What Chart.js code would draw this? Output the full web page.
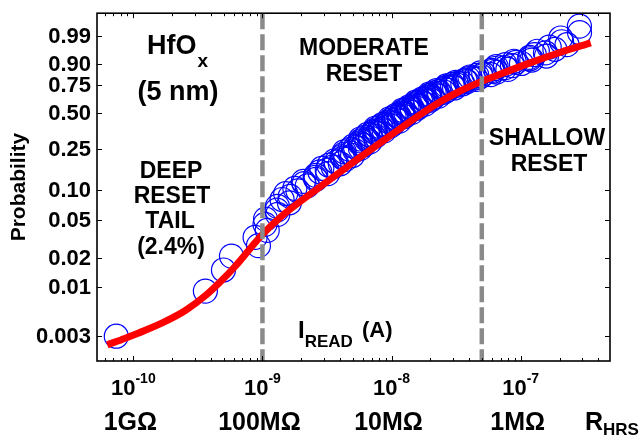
<!DOCTYPE html>
<html>
<head>
<meta charset="utf-8">
<script src="https://cdn.jsdelivr.net/npm/chart.js@4.4.1/dist/chart.umd.min.js"></script>
<style>
  html, body { margin: 0; padding: 0; background: #fff; }
</style>
</head>
<body>
<canvas id="cdf" width="642" height="438"></canvas>
<script>
// --- data ---
// measured cells: cumulative probability and log10 of the read current (A)
const sampleProbability = [
  0.003, 0.009, 0.015, 0.021,
  0.027, 0.033, 0.039, 0.045, 0.051, 0.057, 0.063, 0.069, 0.075, 0.081, 0.087, 0.093,
  0.099, 0.105, 0.111, 0.117, 0.123, 0.129, 0.135, 0.141, 0.147, 0.153, 0.159, 0.165,
  0.171, 0.177, 0.183, 0.189, 0.195, 0.201, 0.207, 0.213, 0.219, 0.225, 0.231, 0.237,
  0.243, 0.249, 0.255, 0.261, 0.267, 0.273, 0.279, 0.285, 0.291, 0.297, 0.303, 0.309,
  0.315, 0.321, 0.327, 0.333, 0.339, 0.345, 0.351, 0.357, 0.363, 0.369, 0.375, 0.381,
  0.387, 0.393, 0.399, 0.405, 0.411, 0.417, 0.423, 0.429, 0.435, 0.441, 0.447, 0.453,
  0.459, 0.465, 0.471, 0.477, 0.483, 0.489, 0.495, 0.501, 0.507, 0.513, 0.519, 0.525,
  0.531, 0.537, 0.543, 0.549, 0.555, 0.561, 0.567, 0.573, 0.579, 0.585, 0.591, 0.597,
  0.603, 0.609, 0.615, 0.621, 0.627, 0.633, 0.639, 0.645, 0.651, 0.657, 0.663, 0.669,
  0.675, 0.681, 0.687, 0.693, 0.699, 0.705, 0.711, 0.717, 0.723, 0.729, 0.735, 0.741,
  0.747, 0.753, 0.759, 0.765, 0.771, 0.777, 0.783, 0.789, 0.795, 0.801, 0.807, 0.813,
  0.819, 0.825, 0.831, 0.837, 0.843, 0.849, 0.855, 0.861, 0.867, 0.873, 0.879, 0.885,
  0.891, 0.897, 0.903, 0.909, 0.915, 0.921, 0.927, 0.933, 0.939, 0.945, 0.951, 0.957,
  0.963, 0.969, 0.975, 0.981, 0.987, 0.993, 0.997
];
const sampleLogCurrent = [
  -10.132, -9.442, -9.302, -9.240,
  -9.031, -9.057, -8.963, -8.980, -8.976, -8.882, -8.888, -8.884, -8.791, -8.848, -8.785, -8.820,
  -8.725, -8.749, -8.653, -8.678, -8.683, -8.587, -8.592, -8.587, -8.494, -8.556, -8.498, -8.540,
  -8.453, -8.485, -8.397, -8.429, -8.441, -8.357, -8.375, -8.384, -8.302, -8.370, -8.318, -8.367,
  -8.285, -8.323, -8.241, -8.279, -8.298, -8.216, -8.236, -8.247, -8.168, -8.239, -8.190, -8.241,
  -8.162, -8.203, -8.124, -8.165, -8.186, -8.107, -8.127, -8.137, -8.057, -8.127, -8.077, -8.127,
  -8.047, -8.087, -8.007, -8.047, -8.067, -7.987, -8.007, -8.018, -7.940, -8.012, -7.964, -8.016,
  -7.938, -7.980, -7.901, -7.943, -7.965, -7.887, -7.909, -7.920, -7.842, -7.914, -7.866, -7.917,
  -7.839, -7.880, -7.801, -7.843, -7.864, -7.786, -7.807, -7.819, -7.740, -7.811, -7.762, -7.813,
  -7.735, -7.776, -7.697, -7.738, -7.760, -7.681, -7.702, -7.713, -7.635, -7.706, -7.657, -7.708,
  -7.629, -7.670, -7.592, -7.633, -7.652, -7.569, -7.587, -7.594, -7.512, -7.580, -7.527, -7.575,
  -7.492, -7.530, -7.448, -7.485, -7.502, -7.415, -7.428, -7.431, -7.344, -7.407, -7.350, -7.393,
  -7.307, -7.340, -7.231, -7.286, -7.312, -7.187, -7.213, -7.224, -7.099, -7.200, -7.120, -7.190,
  -7.064, -7.119, -6.994, -7.037, -7.051, -6.914, -6.927, -6.930, -6.800, -6.894, -6.808, -6.871,
  -6.735, -6.779, -6.641, -6.683, -6.690, -6.544, -6.545
];

// red fitted curve
const fitProbability = [0.00243, 0.00286, 0.00347, 0.00431, 0.00562, 0.00805, 0.01127, 0.01653,
  0.0254, 0.0354, 0.05345, 0.07762, 0.1094, 0.1533, 0.2125, 0.2872, 0.3815, 0.4898, 0.6016,
  0.6987, 0.7747, 0.8359, 0.9079, 0.9536, 0.979];
const fitLogCurrent = [-10.202, -10.062, -9.907, -9.752, -9.597, -9.442, -9.326, -9.209,
  -9.093, -9.000, -8.860, -8.705, -8.550, -8.395, -8.240, -8.085, -7.930, -7.775, -7.620,
  -7.465, -7.310, -7.155, -6.922, -6.690, -6.457];

// axes
const probabilityTicks = [0.003, 0.01, 0.02, 0.05, 0.10, 0.25, 0.50, 0.75, 0.90, 0.99];
const probabilityTickLabels = ['0.003', '0.01', '0.02', '0.05', '0.10', '0.25', '0.50', '0.75', '0.90', '0.99'];
const currentDecades = [-10, -9, -8, -7];
const resistanceLabels = ['1G\u03A9', '100M\u03A9', '10M\u03A9', '1M\u03A9'];
const regionBoundaries = [1e-9, 5e-8];
const currentRange = [5.23e-11, 4.92e-7];
const probabilityRange = [0.00164, 0.99965];

const FONT = '"Liberation Sans", Arial, Helvetica, sans-serif';

// Weibull plotting position: ln(-ln(1-p))
function weib(p) {
    return Math.log(-Math.log(1 - p));
}

const samplePoints = sampleProbability.map((p, i) => ({ x: Math.pow(10, sampleLogCurrent[i]), y: weib(p) }));
const fitPoints = fitProbability.map((p, i) => ({ x: Math.pow(10, fitLogCurrent[i]), y: weib(p) }));
const yMin = weib(probabilityRange[0]);
const yMax = weib(probabilityRange[1]);

function boundaryLine(v) {
    return {
        data: [{ x: v, y: yMax }, { x: v, y: yMin }],
        showLine: true,
        borderColor: '#8a8a8a',
        borderWidth: 4.5,
        borderDash: [16, 5],
        pointRadius: 0,
        order: 0
    };
}

// axes frame, inside ticks and all the text
const decorations = {
    id: 'decorations',
    afterDraw(chart) {
        const { ctx, chartArea: a, scales: { x, y } } = chart;
        ctx.save();

        function seg(x1, y1, x2, y2) {
            ctx.beginPath();
            ctx.moveTo(x1, y1);
            ctx.lineTo(x2, y2);
            ctx.stroke();
        }
        function txt(s, px, py, size, align) {
            ctx.font = 'bold ' + size + 'px ' + FONT;
            ctx.textAlign = align || 'left';
            ctx.fillText(s, px, py);
            return ctx.measureText(s).width;
        }

        ctx.strokeStyle = '#000';
        ctx.fillStyle = '#000';
        ctx.lineWidth = 1;

        // y ticks on both sides
        probabilityTicks.forEach(p => {
            const py = Math.round(y.getPixelForValue(weib(p))) + 0.5;
            seg(a.left, py, a.left + 5, py);
            seg(a.right, py, a.right - 5, py);
        });

        // x ticks, bottom and top
        for (let d = -11; d <= -7; d++) {
            for (let m = 1; m <= 9; m++) {
                const v = m * Math.pow(10, d);
                if (v < currentRange[0] || v > currentRange[1]) continue;
                const px = Math.round(x.getPixelForValue(v)) + 0.5;
                const len = m === 1 ? 5 : 3;
                seg(px, a.bottom, px, a.bottom - len);
                seg(px, a.top, px, a.top + len);
            }
        }

        ctx.lineWidth = 1.6;
        ctx.strokeRect(a.left, a.top, a.right - a.left, a.bottom - a.top);

        // y tick labels
        ctx.textBaseline = 'middle';
        probabilityTicks.forEach((p, i) => {
            txt(probabilityTickLabels[i], a.left - 6, y.getPixelForValue(weib(p)) + 1, 22, 'right');
        });

        // y title
        ctx.save();
        ctx.translate(19, (a.top + a.bottom) / 2);
        ctx.rotate(-Math.PI / 2);
        txt('Probability', 0, 0, 21, 'center');
        ctx.restore();

        ctx.textBaseline = 'alphabetic';

        // x tick labels 10^n and resistance row
        currentDecades.forEach((d, i) => {
            const px = x.getPixelForValue(Math.pow(10, d));
            ctx.font = 'bold 22px ' + FONT;
            const wb = ctx.measureText('10').width;
            ctx.font = 'bold 14px ' + FONT;
            const we = ctx.measureText(String(d)).width;
            const left = px - (wb + we) / 2;
            txt('10', left, 395, 22);
            txt(String(d), left + wb, 383, 14);
            txt(resistanceLabels[i], px - 3, 430, 25, 'center');
        });
        const wr = txt('R', 585, 430, 25);
        txt('HRS', 585 + wr, 435, 17);

        // annotations
        const wh = txt('HfO', 147, 54, 27);
        txt('x', 147 + wh + 1, 67, 19);
        txt('(5 nm)', 178, 100, 27, 'center');

        txt('MODERATE', 364, 55, 23, 'center');
        txt('RESET', 364, 81, 23, 'center');

        txt('SHALLOW', 547, 145, 23, 'center');
        txt('RESET', 549, 171, 23, 'center');

        txt('DEEP', 171, 178, 23, 'center');
        txt('RESET', 172, 203, 23, 'center');
        txt('TAIL', 170, 228, 23, 'center');
        txt('(2.4%)', 171, 254, 23, 'center');

        const wi = txt('I', 298, 338, 24);
        txt('READ', 298 + wi, 347, 17);
        txt('(A)', 362, 337, 22);

        ctx.restore();
    }
};

new Chart(document.getElementById('cdf'), {
    type: 'scatter',
    data: {
        datasets: [
            boundaryLine(regionBoundaries[0]),
            boundaryLine(regionBoundaries[1]),
            {
                data: fitPoints,
                showLine: true,
                borderColor: '#ff0000',
                borderWidth: 7,
                borderCapStyle: 'butt',
                pointRadius: 0,
                tension: 0.4,
                cubicInterpolationMode: 'monotone',
                order: 1
            },
            {
                data: samplePoints,
                showLine: false,
                pointStyle: 'circle',
                pointRadius: 12,
                pointBorderWidth: 1.2,
                pointBorderColor: '#0000ff',
                pointBackgroundColor: 'rgba(0,0,0,0)',
                order: 2
            }
        ]
    },
    options: {
        responsive: false,
        animation: false,
        devicePixelRatio: 1,
        layout: { padding: { left: 97, right: 32, top: 9, bottom: 77 } },
        scales: {
            x: { type: 'logarithmic', display: false, min: currentRange[0], max: currentRange[1] },
            y: { type: 'linear', display: false, min: yMin, max: yMax }
        },
        plugins: {
            legend: { display: false },
            tooltip: { enabled: false }
        }
    },
    plugins: [decorations]
});
</script>
</body>
</html>
